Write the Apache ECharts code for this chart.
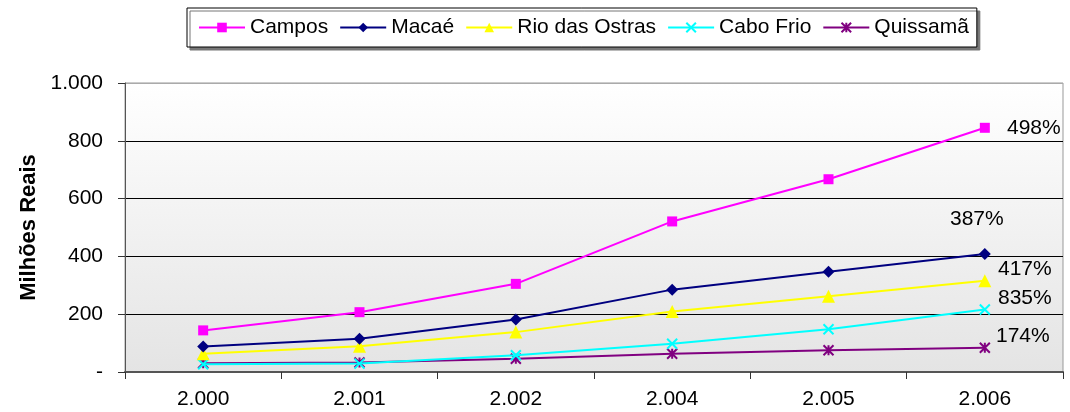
<!DOCTYPE html>
<html>
<head>
    <meta charset="utf-8">
    <title>Milhões Reais</title>
    <style>
        html, body { margin: 0; padding: 0; background-color: #fff; }
        #charts { width: 1070px; height: 412px; }
    </style>
</head>
<body>
    <div id="charts"></div>
</body>
<script type="text/javascript" src="https://cdn.jsdelivr.net/npm/echarts@6/dist/echarts.min.js"></script>
<script type="text/javascript">

var years = ['2.000', '2.001', '2.002', '2.004', '2.005', '2.006'];
var names = ['Campos', 'Macaé', 'Rio das Ostras', 'Cabo Frio', 'Quissamã'];

var campos   = [144, 207, 305, 521, 667, 845];
var macae    = [88, 115, 182, 285, 347, 408];
var rio      = [63, 89, 138, 209, 262, 316];
var caboFrio = [27, 29, 58, 98, 148, 216];
var quissama = [30, 33, 46, 63, 75, 84];

var growth = ['498%', '387%', '417%', '835%', '174%'];
var yTicks = ['-', '200', '400', '600', '800', '1.000'];

var font = 'Arial, "Liberation Sans", sans-serif';

var crossPath = 'path://M0,0L10,10M10,0L0,10';
var starPath  = 'path://M0,0L10,10M10,0L0,10M5,0L5,10';

// cor, simbolo, tamanho, deslocamento do rotulo
var looks = [
    { color: '#FF00FF', symbol: 'rect',     size: 10, offset: [49, 0] },
    { color: '#000080', symbol: 'diamond',  size: 12, offset: [-8, -35] },
    { color: '#FFFF00', symbol: 'triangle', size: 13, offset: [40, -11] },
    { color: '#00FFFF', symbol: crossPath,  size: 10, offset: [40, -11] },
    { color: '#800080', symbol: starPath,   size: 10, offset: [38, -12] }
];

var values = [campos, macae, rio, caboFrio, quissama];

var series = [];
for (var i = 0; i < names.length; i++) {
    var lk = looks[i];
    var data = [];
    for (var j = 0; j < values[i].length; j++) {
        if (j == values[i].length - 1) {
            data.push({
                value: values[i][j],
                label: {
                    show: true,
                    position: 'inside',
                    offset: lk.offset,
                    formatter: growth[i],
                    color: '#000',
                    fontSize: 21,
                    fontFamily: font
                }
            });
        } else {
            data.push(values[i][j]);
        }
    }
    var stroked = (i >= 3);
    series.push({
        name: names[i],
        type: 'line',
        data: data,
        symbol: lk.symbol,
        symbolSize: lk.size,
        showAllSymbol: true,
        z: 10 - i,
        lineStyle: { color: lk.color, width: 2 },
        itemStyle: {
            color: lk.color,
            borderColor: lk.color,
            borderWidth: stroked ? 2 : 0,
            opacity: 1
        },
        emphasis: { disabled: true },
        animation: false
    });
}

var myChart = echarts.init(document.getElementById('charts'));

var option = {
    animation: false,
    textStyle: { fontFamily: font },
    legend: {
        data: names,
        left: 187,
        top: 8,
        padding: [8, 8, 8, 11],
        itemGap: 11,
        itemWidth: 46,
        itemHeight: 12,
        borderColor: '#000',
        borderWidth: 1,
        backgroundColor: '#fff',
        shadowColor: '#777',
        shadowOffsetX: 3,
        shadowOffsetY: 3,
        shadowBlur: 0,
        textStyle: { fontSize: 21, lineHeight: 23, color: '#000', fontFamily: font }
    },
    grid: {
        left: 125,
        right: 7,
        top: 83,
        bottom: 40,
        show: true,
        borderColor: '#999',
        borderWidth: 1,
        backgroundColor: new echarts.graphic.LinearGradient(0, 0, 0, 1, [
            { offset: 0, color: '#ffffff' },
            { offset: 1, color: '#e4e4e4' }
        ])
    },
    xAxis: {
        type: 'category',
        boundaryGap: true,
        data: years,
        axisLine: { lineStyle: { color: '#555', width: 2 } },
        axisTick: { show: true, length: 7, lineStyle: { color: '#333' } },
        axisLabel: { margin: 17, fontSize: 21, color: '#000', fontFamily: font },
        splitLine: { show: false }
    },
    yAxis: {
        type: 'value',
        min: 0,
        max: 1000,
        interval: 200,
        name: 'Milhões Reais',
        nameLocation: 'middle',
        nameGap: 84,
        nameTextStyle: { fontSize: 22, fontWeight: 'bold', color: '#000', fontFamily: font },
        axisLine: { show: true, lineStyle: { color: '#555', width: 1 } },
        axisTick: { show: true, length: 7, lineStyle: { color: '#333' } },
        axisLabel: {
            margin: 22,
            fontSize: 21,
            color: '#000',
            fontFamily: font,
            formatter: function (v) { return yTicks[Math.round(v / 200)]; }
        },
        splitLine: {
            show: true,
            lineStyle: { color: ['#555', '#000', '#000', '#000', '#000', '#aaa'], width: 1 }
        }
    },
    series: series
};

myChart.setOption(option);
</script>
</html>
